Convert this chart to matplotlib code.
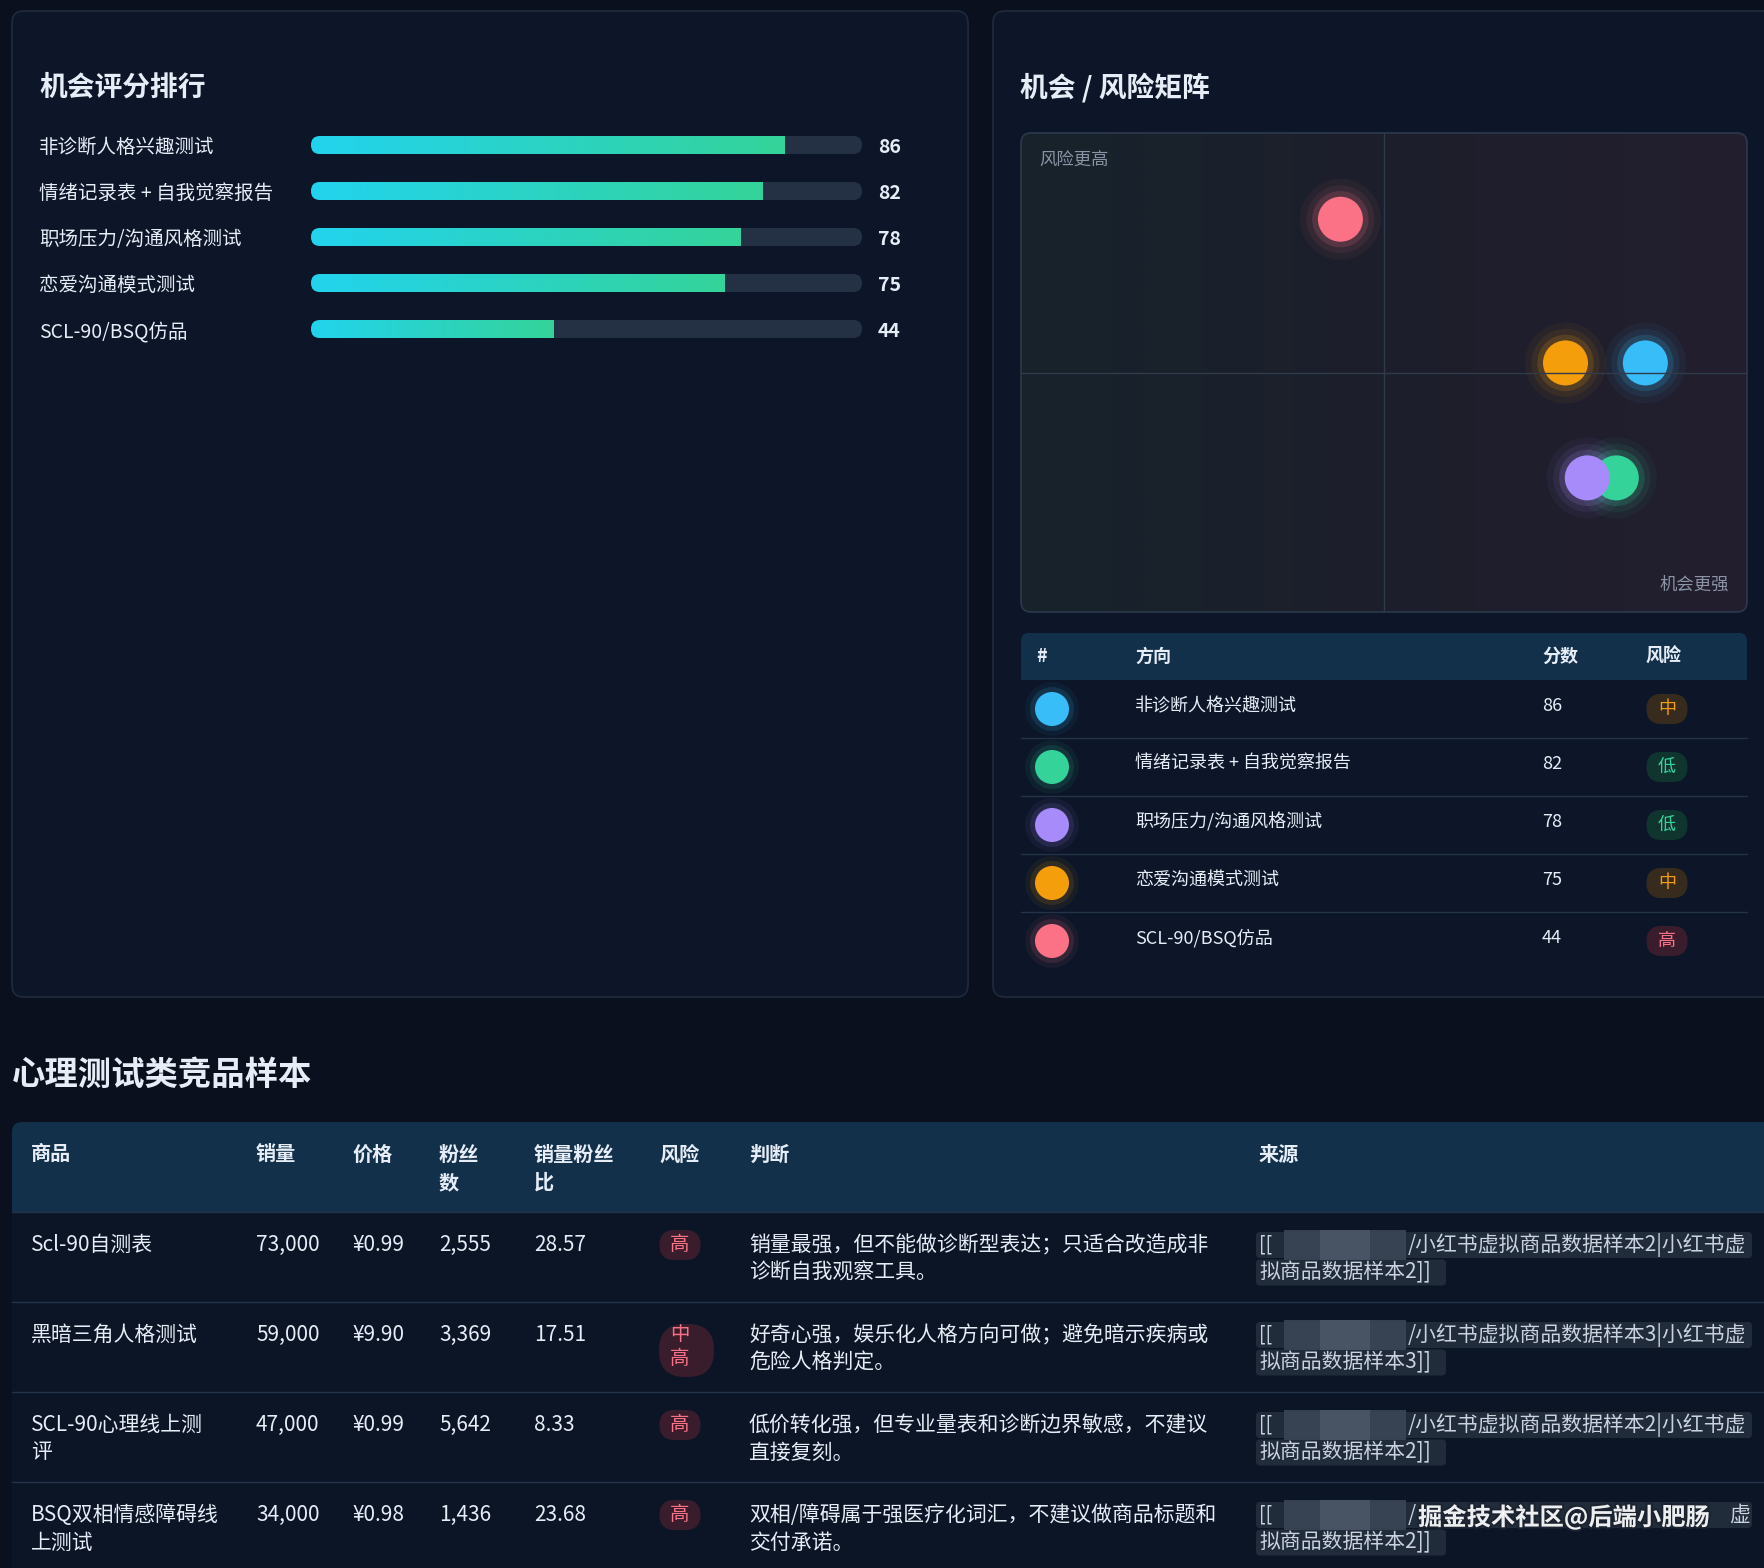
import numpy as np
import matplotlib
matplotlib.use('Agg')
import matplotlib.pyplot as plt
from matplotlib.patches import FancyBboxPatch, Rectangle
from matplotlib.colors import LinearSegmentedColormap
import matplotlib.patheffects as pe

plt.rcParams['font.family'] = ['Noto Sans CJK SC', 'DejaVu Sans']

W, H = 1765, 1568

# ---- opportunity ranking / matrix data
directions = ['非诊断人格兴趣测试', '情绪记录表 + 自我觉察报告', '职场压力/沟通风格测试',
              '恋爱沟通模式测试', 'SCL-90/BSQ仿品']
scores = [86, 82, 78, 75, 44]
risk_levels = ['中', '低', '低', '中', '高']
risk_y = [52, 28, 28, 52, 82]          # vertical position in matrix (higher = riskier)
dot_colors = ['#38bdf8', '#34d399', '#a78bfa', '#f59e0b', '#fb7185']

# ---- competitor sample table
products = ['Scl-90自测表', '黑暗三角人格测试', 'SCL-90心理线上测\n评', 'BSQ双相情感障碍线\n上测试']
sales = [73000, 59000, 47000, 34000]
prices = [0.99, 9.90, 0.99, 0.98]
fans = [2555, 3369, 5642, 1436]
sales_fan_ratio = [28.57, 17.51, 8.33, 23.68]
product_risk = ['高', '中\n高', '高', '高']
verdicts = ['销量最强，但不能做诊断型表达；只适合改造成非\n诊断自我观察工具。',
            '好奇心强，娱乐化人格方向可做；避免暗示疾病或\n危险人格判定。',
            '低价转化强，但专业量表和诊断边界敏感，不建议\n直接复刻。',
            '双相/障碍属于强医疗化词汇，不建议做商品标题和\n交付承诺。']
source_ids = [2, 3, 2, 2]
table_headers = ['商品', '销量', '价格', '粉丝\n数', '销量粉丝\n比', '风险', '判断', '来源']

# ---- colours
BG = '#0a101d'
PANEL = '#0d1628'
PANEL_EDGE = '#1f2b3d'
TEXT = '#e6edf7'
MUTED = '#8a94a6'
TRACK = '#243044'
HEAD = '#12304a'
ROW_BG = '#0c1526'
LINE = '#24324a'
CODE_BG = '#212c3b'
badge_style = {'高': ('#3a1d2d', '#fb7185'), '中': ('#372b1d', '#f59e0b'), '低': ('#10352f', '#34d399')}

fig = plt.figure(figsize=(W / 100, H / 100), dpi=100)
fig.patch.set_facecolor(BG)
bg = fig.add_axes([0, 0, 1, 1])
bg.set_xlim(0, W)
bg.set_ylim(H, 0)
bg.axis('off')


def px_axes(x0, y0, x1, y1):
    return fig.add_axes([x0 / W, 1 - y1 / H, (x1 - x0) / W, (y1 - y0) / H])


def lines_text(x, y, s, size, color=TEXT, weight='normal', ha='left', lh=27.5, **kw):
    for k, part in enumerate(s.split('\n')):
        bg.text(x, y + k * lh, part, fontsize=size, color=color, fontweight=weight,
                ha=ha, va='center', **kw)


def badge(cx, cy, level, size=13.5):
    key = '高' if '高' in level else level
    fc, tc = badge_style[key]
    n = len(level.split('\n'))
    if n == 1:
        w, h = 41, 30
        bg.add_patch(FancyBboxPatch((cx - w / 2, cy - h / 2), w, h,
                                    boxstyle='round,pad=0,rounding_size=15', fc=fc, ec='none'))
    else:
        w, h = 55, 53
        bg.add_patch(FancyBboxPatch((cx - 21, cy - 11), w, h,
                                    boxstyle='round,pad=0,rounding_size=26', fc=fc, ec='none'))
    lines_text(cx, cy, level, size, color=tc, ha='center', lh=23)


# ---- panels
bg.add_patch(FancyBboxPatch((12, 11), 956, 986, boxstyle='round,pad=0,rounding_size=12',
                            fc=PANEL, ec=PANEL_EDGE, lw=1.2))
bg.add_patch(FancyBboxPatch((993, 11), 820, 986, boxstyle='round,pad=0,rounding_size=12',
                            fc=PANEL, ec=PANEL_EDGE, lw=1.2))
bg.text(39, 88, '机会评分排行', fontsize=20, fontweight='bold', color=TEXT, va='center')
bg.text(1020, 88, '机会 / 风险矩阵', fontsize=20, fontweight='bold', color=TEXT, va='center')

# ---- ranking bars
bx = px_axes(311, 122, 862, 352)
px_x, px_y = 551 / 100, 46
bar_h = 18 / px_y
grad = np.linspace(0, 1, 256).reshape(1, -1)
cmap_bar = LinearSegmentedColormap.from_list('bar', ['#22d3ee', '#34d399'])
for i, v in enumerate(scores):
    track = FancyBboxPatch((0, i - bar_h / 2), 100, bar_h,
                           boxstyle='round,pad=0,rounding_size=%f' % (9 / px_x),
                           mutation_aspect=px_x / px_y, fc=TRACK, ec='none', zorder=1)
    bx.add_patch(track)
    im = bx.imshow(grad, extent=[0, v, i + bar_h / 2, i - bar_h / 2], cmap=cmap_bar,
                   aspect='auto', interpolation='bicubic', zorder=2)
    im.set_clip_path(track)
    bx.annotate(str(v), xy=(100, i), xytext=(11.5, -2), textcoords='offset points',
                va='center', ha='left', fontsize=14, fontweight='bold', color=TEXT)
bx.set_xlim(0, 100)
bx.set_ylim(len(scores) - 0.5, -0.5)
bx.patch.set_alpha(0)
for sp in bx.spines.values():
    sp.set_visible(False)
bx.set_xticks([])
bx.set_yticks(range(len(directions)), directions)
bx.tick_params(axis='y', length=0, pad=(311 - 39) * 0.72, labelsize=14, labelcolor=TEXT)
for lbl in bx.get_yticklabels():
    lbl.set_ha('left')

# ---- opportunity / risk matrix
frame = FancyBboxPatch((1021, 133), 726, 479, boxstyle='round,pad=0,rounding_size=10',
                       fc='#141d2a', ec='none')
bg.add_patch(frame)
mx = px_axes(1021, 133, 1747, 612)
mx.axis('off')
cmap_mat = LinearSegmentedColormap.from_list('mat', ['#17232b', '#1d1f2b', '#231e2f'])
im = mx.imshow(grad, extent=[0, 100, 0, 100], cmap=cmap_mat, aspect='auto')
im.set_clip_path(frame)
mx.axvline(50, color='#2f3a4a', lw=1)
mx.axhline(50, color='#2f3a4a', lw=1)
for sz, a in [(3400, 0.05), (2400, 0.08), (1650, 0.16)]:
    mx.scatter(scores, risk_y, s=sz, c=dot_colors, alpha=a, linewidths=0)
mx.scatter(scores, risk_y, s=1050, c=dot_colors, linewidths=0)
mx.set_xlim(0, 100)
mx.set_ylim(0, 100)
mx.text(0.025, 0.942, '风险更高', transform=mx.transAxes, fontsize=12.5, color=MUTED, va='center')
mx.text(0.975, 0.056, '机会更强', transform=mx.transAxes, fontsize=12.5, color=MUTED,
        va='center', ha='right')
mx.add_patch(FancyBboxPatch((1021, 133), 726, 479, boxstyle='round,pad=0,rounding_size=10',
                            fc='none', ec='#2b394c', lw=1.2, transform=bg.transData, clip_on=False))

# ---- right summary table
rt_top, rt_head, rt_row = 633, 47, 58
bg.add_patch(Rectangle((1021, rt_top + rt_head), 726, rt_row * len(scores) + 1, fc='#0c1628', ec='none'))
bg.add_patch(FancyBboxPatch((1021, rt_top), 726, rt_head, boxstyle='round,pad=0,rounding_size=8',
                            fc=HEAD, ec='none'))
bg.add_patch(Rectangle((1021, rt_top + rt_head - 10), 726, 10, fc=HEAD, ec='none'))
hy = rt_top + rt_head / 2
for x, lab in zip([1036, 1135, 1542, 1646], ['#', '方向', '分数', '风险']):
    bg.text(x, hy, lab, fontsize=13, fontweight='bold', color=TEXT, va='center')
row_cy = [rt_top + rt_head + (i + 0.5) * rt_row for i in range(len(scores))]
for i in range(1, len(scores)):
    bg.plot([1021, 1747], [rt_top + rt_head + i * rt_row] * 2, color=LINE, lw=1)
for sz, a in [(1500, 0.06), (1000, 0.12)]:
    bg.scatter([1052] * len(scores), row_cy, s=sz, c=dot_colors, alpha=a, linewidths=0)
bg.scatter([1052] * len(scores), row_cy, s=600, c=dot_colors, linewidths=0, zorder=3)
for i, (name, sc, lv) in enumerate(zip(directions, scores, risk_levels)):
    bg.text(1135, row_cy[i] - 3, name, fontsize=13, color=TEXT, va='center')
    bg.text(1542, row_cy[i] - 3, str(sc), fontsize=13, color=TEXT, va='center')
    badge(1667, row_cy[i], lv, size=13)

# ---- competitor table
bg.text(12, 1075, '心理测试类竞品样本', fontsize=24, fontweight='bold', color=TEXT, va='center')
tb_top, tb_head, tb_row = 1122, 90, 90
col_x = [31, 256, 353, 439, 534, 659, 749, 1259]
bg.add_patch(Rectangle((12, tb_top + tb_head), 1800, 400, fc=ROW_BG, ec='none'))
bg.add_patch(FancyBboxPatch((12, tb_top), 1800, tb_head, boxstyle='round,pad=0,rounding_size=10',
                            fc=HEAD, ec='none'))
bg.add_patch(Rectangle((12, tb_top + tb_head - 12), 1800, 12, fc=HEAD, ec='none'))
for x, lab in zip(col_x, table_headers):
    lines_text(x, tb_top + 32, lab, 14.5, weight='bold', lh=28.5)
for i in range(len(products) + 1):
    y = tb_top + tb_head + i * tb_row
    bg.plot([12, W], [y, y], color=LINE, lw=1)

watermark_row = 3
for i in range(len(products)):
    y1 = tb_top + tb_head + i * tb_row + 33
    lines_text(col_x[0], y1, products[i], 15)
    lines_text(col_x[1], y1, f'{sales[i]:,}', 15)
    lines_text(col_x[2], y1, f'¥{prices[i]:.2f}', 15)
    lines_text(col_x[3], y1, f'{fans[i]:,}', 15)
    lines_text(col_x[4], y1, f'{sales_fan_ratio[i]:.2f}', 15)
    badge(680, y1, product_risk[i], size=14)
    lines_text(col_x[6], y1, verdicts[i], 15)
    # source reference (inline code style, path blurred)
    y2 = y1 + 27.5
    bg.add_patch(FancyBboxPatch((1256, y1 - 13), 496, 26, boxstyle='round,pad=0,rounding_size=4',
                                fc=CODE_BG, ec='none'))
    bg.add_patch(FancyBboxPatch((1256, y2 - 13), 190, 26, boxstyle='round,pad=0,rounding_size=4',
                                fc=CODE_BG, ec='none'))
    bg.add_patch(Rectangle((1284, y1 - 15), 122, 30, fc='#3a4556', ec='none', alpha=0.9))
    bg.add_patch(Rectangle((1320, y1 - 15), 50, 30, fc='#4a5567', ec='none', alpha=0.9))
    bg.text(1259, y1, '[[', fontsize=14, color='#c9d2de', va='center')
    if i == watermark_row:
        # watermark covers the middle of this line
        bg.text(1408, y1, '/', fontsize=15, color='#c9d2de', va='center')
        bg.text(1750, y1, '虚', fontsize=15, color='#c9d2de', va='center', ha='right')
        bg.text(1418, y1 + 2, '掘金技术社区@后端小肥肠', fontsize=17.5, fontweight='bold',
                color='white', alpha=0.92, va='center',
                path_effects=[pe.withStroke(linewidth=3, foreground='#1b2230')])
    else:
        bg.text(1408, y1, f'/小红书虚拟商品数据样本{source_ids[i]}|小红书虚', fontsize=15,
                color='#c9d2de', va='center')
    bg.text(1259, y2, f'拟商品数据样本{source_ids[i]}]]', fontsize=15, color='#c9d2de', va='center')

fig.savefig('out.png', dpi=100, facecolor=BG)
